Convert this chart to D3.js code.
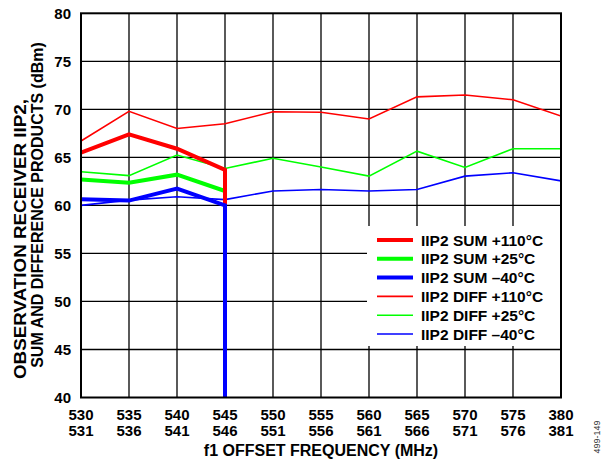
<!DOCTYPE html>
<html>
<head>
<meta charset="utf-8">
<script src="https://cdn.jsdelivr.net/npm/d3@7"></script>
<style>
  html, body { margin: 0; padding: 0; background: #fff; }
  svg { display: block; }
  text { font-family: Arial, "Liberation Sans", Helvetica, sans-serif; font-weight: bold; fill: #000; }
</style>
</head>
<body>
<svg id="chart" width="611" height="462"></svg>
<script>
// ---- data ----
const freqTop    = ["530","535","540","545","550","555","560","565","570","575","380"];
const freqBottom = ["531","536","541","546","551","556","561","566","571","576","381"];
const yTicks = [40, 45, 50, 55, 60, 65, 70, 75, 80];

// SUM traces: measured at first four offsets, then the trace drops to the axis floor at 545
const sumIndex  = [0, 1, 2, 3, 3];
const sumP110   = [65.5, 67.4, 65.9, 63.7, 40];
const sumP25    = [62.7, 62.35, 63.2, 61.5, 40];
const sumM40    = [60.65, 60.5, 61.75, 60.0, 40];

// DIFF traces: all offsets
const diffIndex = [0, 1, 2, 3, 4, 5, 6, 7, 8, 9, 10];
const diffP110  = [66.7, 69.8, 68.0, 68.5, 69.75, 69.7, 69.0, 71.3, 71.5, 71.0, 69.3];
const diffP25   = [63.5, 63.1, 65.25, 63.85, 64.9, 64.0, 63.05, 65.65, 63.95, 65.9, 65.9];
const diffM40   = [60.0, 60.55, 60.9, 60.6, 61.5, 61.65, 61.5, 61.65, 63.05, 63.4, 62.55];

const seriesNames = ["IIP2 SUM +110°C","IIP2 SUM +25°C","IIP2 SUM \u201340°C",
                     "IIP2 DIFF +110°C","IIP2 DIFF +25°C","IIP2 DIFF \u201340°C"];

// ---- layout ----
const L = 81, R = 561, T = 13.3, B = 397.5;
const svg = d3.select("#chart");

const x = d3.scaleLinear().domain([0, freqTop.length - 1]).range([L, R]);
const y = d3.scaleLinear().domain([40, 80]).range([B, T]);

// grid
const grid = svg.append("g");
grid.selectAll("line.v").data(d3.range(1, freqTop.length - 1)).join("line")
  .attr("x1", d => x(d)).attr("x2", d => x(d)).attr("y1", T).attr("y2", B)
  .attr("stroke", "#000").attr("stroke-width", 1.3);
grid.selectAll("line.h").data(yTicks.slice(1, -1)).join("line")
  .attr("x1", L).attr("x2", R).attr("y1", d => y(d)).attr("y2", d => y(d))
  .attr("stroke", "#000").attr("stroke-width", 1.3);

// series
const series = [
  { name: seriesNames[3], idx: diffIndex, vals: diffP110, color: "#ff0000", w: 1.6 },
  { name: seriesNames[4], idx: diffIndex, vals: diffP25,  color: "#00ff00", w: 1.6 },
  { name: seriesNames[5], idx: diffIndex, vals: diffM40,  color: "#0000ff", w: 1.6 },
  { name: seriesNames[1], idx: sumIndex,  vals: sumP25,   color: "#00ff00", w: 4 },
  { name: seriesNames[0], idx: sumIndex,  vals: sumP110,  color: "#ff0000", w: 4 },
  { name: seriesNames[2], idx: sumIndex,  vals: sumM40,   color: "#0000ff", w: 4 }
];
const line = d3.line().x(d => x(d[0])).y(d => y(d[1]));
svg.append("clipPath").attr("id", "plotclip").append("rect")
  .attr("x", L).attr("y", T).attr("width", R - L).attr("height", B - T);
svg.append("g").attr("clip-path", "url(#plotclip)")
  .selectAll("path").data(series).join("path")
  .attr("d", s => line(s.idx.map((i, k) => [i, s.vals[k]])))
  .attr("fill", "none").attr("stroke", s => s.color).attr("stroke-width", s => s.w)
  .attr("stroke-linejoin", "miter");

// legend
const lg = svg.append("g");
lg.append("rect").attr("x", 367).attr("y", 226).attr("width", R - 367).attr("height", 120).attr("fill", "#fff");
const legendItems = [
  { name: seriesNames[0], color: "#ff0000", w: 4 },
  { name: seriesNames[1], color: "#00ff00", w: 4 },
  { name: seriesNames[2], color: "#0000ff", w: 4 },
  { name: seriesNames[3], color: "#ff0000", w: 1.6 },
  { name: seriesNames[4], color: "#00ff00", w: 1.6 },
  { name: seriesNames[5], color: "#0000ff", w: 1.6 }
];
const li = lg.selectAll("g.item").data(legendItems).join("g")
  .attr("transform", (d, i) => `translate(0, ${240 + i * 18.8})`);
li.append("line").attr("x1", 377).attr("x2", 413).attr("y1", 0).attr("y2", 0)
  .attr("stroke", d => d.color).attr("stroke-width", d => d.w);
li.append("text").attr("x", 421).attr("y", 5.6).attr("font-size", 15.5).text(d => d.name);

// frame
svg.append("rect").attr("x", L).attr("y", T).attr("width", R - L).attr("height", B - T)
  .attr("fill", "none").attr("stroke", "#000").attr("stroke-width", 2);

// y tick labels
svg.append("g").selectAll("text").data(yTicks).join("text")
  .attr("x", 71).attr("y", d => y(d) + 5.3).attr("text-anchor", "end").attr("font-size", 15)
  .text(d => d);

// x tick labels (two rows)
const xl = svg.append("g");
xl.selectAll("text.t").data(freqTop).join("text")
  .attr("x", (d, i) => x(i)).attr("y", 419.5).attr("text-anchor", "middle").attr("font-size", 15).text(d => d);
xl.selectAll("text.b").data(freqBottom).join("text").attr("class", "b")
  .attr("x", (d, i) => x(i)).attr("y", 436).attr("text-anchor", "middle").attr("font-size", 15).text(d => d);

// axis titles
svg.append("text").attr("x", (L + R) / 2).attr("y", 456).attr("text-anchor", "middle")
  .attr("font-size", 16).text("f1 OFFSET FREQUENCY (MHz)");
svg.append("text").attr("transform", "translate(26, 239) rotate(-90)")
  .attr("text-anchor", "middle").attr("font-size", 17)
  .attr("textLength", 280).attr("lengthAdjust", "spacingAndGlyphs")
  .text("OBSERVATION RECEIVER IIP2,");
svg.append("text").attr("transform", "translate(43, 205) rotate(-90)")
  .attr("text-anchor", "middle").attr("font-size", 16)
  .text("SUM AND DIFFERENCE PRODUCTS (dBm)");

// figure id
svg.append("text").attr("transform", "translate(600, 437) rotate(-90)")
  .attr("text-anchor", "middle").attr("font-size", 9).style("font-weight", "normal")
  .style("fill", "#333").text("499-149");
</script>
</body>
</html>
